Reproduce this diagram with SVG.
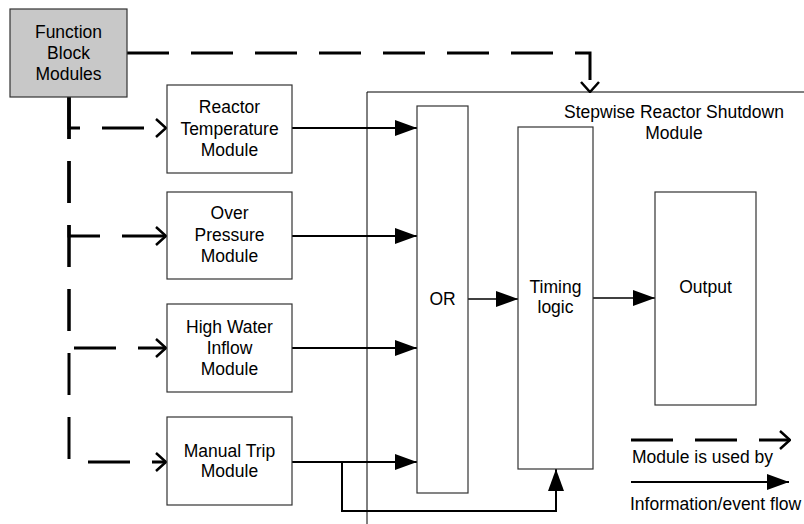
<svg xmlns="http://www.w3.org/2000/svg" width="804" height="524" viewBox="0 0 804 524">
<style>
.box{fill:#fff;stroke:#333;stroke-width:1.2}
.fb{fill:#c8c8c8;stroke:#333;stroke-width:1.2}
.t{font-family:"Liberation Sans",Arial,sans-serif;font-size:17.5px;fill:#000;text-anchor:middle}
.tl{font-family:"Liberation Sans",Arial,sans-serif;font-size:17.5px;fill:#000}
.dash{fill:none;stroke:#000;stroke-width:3;stroke-dasharray:42 22}
.flow{fill:none;stroke:#000;stroke-width:2}
.thin{fill:none;stroke:#000;stroke-width:1}
</style>
<defs>
<marker id="open" viewBox="0 0 12 20" refX="11" refY="10" markerWidth="12" markerHeight="20" markerUnits="userSpaceOnUse" orient="auto">
<path d="M1,1 L11,10 L1,19" fill="none" stroke="#000" stroke-width="2.5"/>
</marker>
<marker id="solid" viewBox="0 0 22 16" refX="22" refY="8" markerWidth="22" markerHeight="16" markerUnits="userSpaceOnUse" orient="auto">
<path d="M0,0 L22,8 L0,16 Z" fill="#000"/>
</marker>
</defs>

<g id="container">
<path class="thin" d="M367,524 V92 H804"/>
<text class="t" x="674" y="118">Stepwise Reactor Shutdown</text>
<text class="t" x="674" y="139">Module</text>
</g>

<g id="connectors">
<path class="dash" d="M127,53 H590 V92" marker-end="url(#open)"/>
<path class="dash" d="M69,97 V128 H166" marker-end="url(#open)"/>
<path class="dash" d="M69,97 V236 H166" marker-end="url(#open)"/>
<path class="dash" d="M69,97 V348 H166" marker-end="url(#open)"/>
<path class="dash" d="M69,97 V462 H166" marker-end="url(#open)"/>
<path class="flow" d="M292,128 H417" marker-end="url(#solid)"/>
<path class="flow" d="M292,236 H417" marker-end="url(#solid)"/>
<path class="flow" d="M292,348 H417" marker-end="url(#solid)"/>
<path class="flow" d="M292,462 H417" marker-end="url(#solid)"/>
<path class="flow" d="M342,462 V511 H556 V469" marker-end="url(#solid)"/>
<path class="flow" style="stroke-width:1.5" d="M468,299 H518" marker-end="url(#solid)"/>
<path class="flow" style="stroke-width:1.5" d="M593,298 H655" marker-end="url(#solid)"/>
</g>

<g id="fb">
<rect class="fb" x="10" y="9" width="117" height="88"/>
<text class="t" x="68.5" y="38">Function</text>
<text class="t" x="68.5" y="59">Block</text>
<text class="t" x="68.5" y="80">Modules</text>
</g>

<g id="reactor-temp">
<rect class="box" x="167" y="85" width="125" height="88"/>
<text class="t" x="229.5" y="113">Reactor</text>
<text class="t" x="229.5" y="135">Temperature</text>
<text class="t" x="229.5" y="156">Module</text>
</g>

<g id="over-pressure">
<rect class="box" x="167" y="192" width="125" height="87"/>
<text class="t" x="229.5" y="219">Over</text>
<text class="t" x="229.5" y="241">Pressure</text>
<text class="t" x="229.5" y="262">Module</text>
</g>

<g id="high-water">
<rect class="box" x="167" y="304" width="125" height="88"/>
<text class="t" x="229.5" y="333">High Water</text>
<text class="t" x="229.5" y="354">Inflow</text>
<text class="t" x="229.5" y="375">Module</text>
</g>

<g id="manual-trip">
<rect class="box" x="167" y="417" width="125" height="88"/>
<text class="t" x="229.5" y="457">Manual Trip</text>
<text class="t" x="229.5" y="477">Module</text>
</g>

<g id="or">
<rect class="box" x="417" y="106" width="51" height="387"/>
<text class="t" x="442.5" y="305">OR</text>
</g>

<g id="timing">
<rect class="box" x="518" y="127" width="75" height="342"/>
<text class="t" x="555.5" y="293">Timing</text>
<text class="t" x="555.5" y="313">logic</text>
</g>

<g id="output">
<rect class="box" x="655" y="192" width="101" height="213"/>
<text class="t" x="705.5" y="293">Output</text>
</g>

<g id="legend">
<path class="dash" d="M631,440 H790" marker-end="url(#open)"/>
<text class="tl" x="632" y="463">Module is used by</text>
<path class="flow" d="M631,482 H789" marker-end="url(#solid)"/>
<text class="tl" x="630" y="510">Information/event flow</text>
</g>
</svg>
